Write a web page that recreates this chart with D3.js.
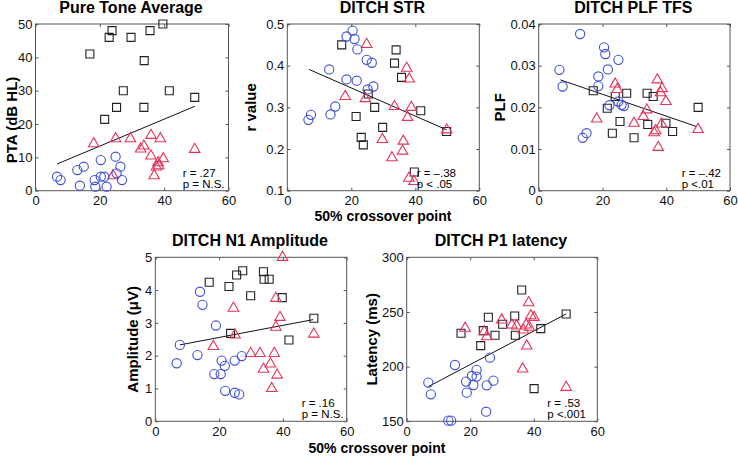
<!DOCTYPE html>
<html>
<head>
<meta charset="utf-8">
<script src="https://cdn.jsdelivr.net/npm/d3@7"></script>
<style>
  body { margin: 0; background: #fff; }
  text { font-family: "Liberation Sans", Arial, sans-serif; }
</style>
</head>
<body>
<svg id="chart" width="738" height="461"></svg>
<script>
// x = 50% crossover point, y = measure
const xTicks = [0, 20, 40, 60];

// Pure Tone Average
const ptaCircles = [[6.7,4.2],[7.8,3.2],[13,6.2],[15,7.2],[13.8,1.5],[20.3,9.2],[24.9,10.2],[18.4,3.2],[18.6,1.2],[20.3,4.2],[21.4,4.2],[22.1,1.2],[25.2,5.2],[26.4,7.2],[26.9,3.2]];
const ptaSquares = [[16.9,41],[23.8,48],[22.9,46],[29.7,46],[35.6,48],[39.6,50],[33.8,39],[27.3,30],[41.6,30],[49.5,28],[25.2,25],[33.7,25],[21.5,21.4]];
const ptaTriangles = [[18.1,14.1],[24.9,15.6],[29.5,15.6],[35.9,16.6],[38.8,15.6],[32.7,12.5],[33.7,13.4],[49.5,12.4],[35.9,10.4],[39.7,9.6],[38.1,8.4],[38.3,7.5],[37.6,7.1],[36.9,4.5],[24.1,4.5]];
const ptaFit = [[6.7,8.0],[49.5,25.3]];
const ptaTicks = [0, 10, 20, 30, 40, 50];

// DITCH STR
const strCircles = [[20.4,0.484],[18.5,0.470],[21,0.464],[21.9,0.439],[24.8,0.414],[26.4,0.407],[13.1,0.391],[18.5,0.367],[21.7,0.364],[26.9,0.350],[25.1,0.343],[15,0.302],[13.5,0.283],[7.4,0.282],[6.6,0.270]];
const strSquares = [[17,0.450],[34,0.438],[33.5,0.406],[35.7,0.372],[25.3,0.332],[27.3,0.300],[41.7,0.292],[21.5,0.278],[29.8,0.252],[49.8,0.242],[23.1,0.228],[23.75,0.210],[39.7,0.145]];
const strTriangles = [[24.8,0.451],[37.3,0.394],[38.1,0.368],[18.1,0.326],[24.4,0.321],[33.5,0.302],[38.75,0.300],[37.6,0.276],[49.8,0.246],[29.7,0.223],[36.25,0.219],[36,0.195],[32.7,0.179],[38,0.130],[39.6,0.122]];
const strFit = [[6.8,0.391],[49.8,0.246]];
const strTicks = [0.1, 0.2, 0.3, 0.4, 0.5];

// DITCH PLF TFS
const plfCircles = [[13,0.0376],[20.5,0.0344],[20.9,0.0328],[25,0.0314],[6.5,0.0290],[21.7,0.0291],[18.7,0.0274],[7.5,0.0250],[18.7,0.0251],[22.2,0.0205],[25,0.0214],[26,0.0206],[26.7,0.0203],[15,0.0138],[13.8,0.0127]];
const plfSquares = [[17.1,0.0240],[24,0.0226],[27.6,0.0234],[34,0.0234],[35.9,0.0226],[21.5,0.0198],[50,0.0200],[25.5,0.0166],[34.2,0.0159],[39.9,0.0162],[42,0.0142],[23.1,0.0138],[29.9,0.0127]];
const plfTriangles = [[37.2,0.0266],[24,0.0256],[24.6,0.0243],[38.7,0.0245],[38.2,0.0235],[39.9,0.0214],[33.9,0.0194],[32.8,0.0178],[18.2,0.0172],[29.9,0.0162],[38.5,0.0160],[36.2,0.0139],[36.7,0.0144],[50,0.0147],[37.5,0.0104]];
const plfFit = [[6.8,0.0266],[49.5,0.0154]];
const plfTicks = [0, 0.01, 0.02, 0.03, 0.04];

// DITCH N1 Amplitude
const n1Circles = [[14,3.95],[14.8,3.55],[19,2.92],[7.7,2.33],[13.2,2.02],[6.7,1.77],[27.1,1.99],[20.8,1.85],[21.8,1.69],[24.9,1.85],[18.5,1.44],[20.5,1.44],[21.9,0.93],[24.9,0.87],[26.3,0.82]];
const n1Squares = [[16.9,4.24],[23.1,4.11],[25.5,4.46],[27.4,4.59],[33.9,4.56],[34.1,4.33],[35.7,4.33],[29.9,3.83],[39.8,3.77],[23.6,2.68],[49.7,3.14],[41.9,2.48]];
const n1Triangles = [[39.9,5.0],[37.8,3.75],[24.5,3.45],[39.1,3.17],[37.8,2.87],[25,2.63],[49.7,2.66],[18.2,2.28],[29.9,2.07],[32.8,2.07],[37.3,2.07],[36.1,1.75],[33.9,1.59],[38.2,1.41],[36.5,1.0]];
const n1Fit = [[7.7,2.33],[49.5,3.1]];
const n1Ticks = [0, 1, 2, 3, 4, 5];

// DITCH P1 latency
const p1Circles = [[26.2,208.2],[15.2,201.5],[22,197],[20.5,191.5],[18.7,186.3],[22,190.9],[21,183.2],[27.3,187.2],[25.2,182.9],[6.8,185.4],[7.6,174.7],[18.9,176.2],[25,158.8],[13.1,150.6],[14,150.6]];
const p1Squares = [[36.2,270.1],[50.2,248.2],[34,246.3],[25.7,245.1],[30.2,238.7],[24.1,232.9],[42.2,234.8],[17.1,230.5],[27.8,228.7],[34.2,228.7],[23.3,219.2],[40.1,179.9]];
const p1Triangles = [[38.4,258.5],[39.1,246.6],[40.1,245.1],[29.9,242.7],[18.4,235.1],[33.1,238.1],[34.6,237.2],[37.6,238.1],[38.6,236],[36.7,233.5],[24.4,232],[25.2,227.4],[37.8,218.9],[36.5,197.9],[50.2,181.1]];
const p1Fit = [[6.8,181.7],[50.2,248.2]];
const p1Ticks = [150, 200, 250, 300];

const panels = [
  { title: "Pure Tone Average", ylab: "PTA (dB HL)", ylabY: 120, ticks: ptaTicks,
    circles: ptaCircles, squares: ptaSquares, triangles: ptaTriangles, fit: ptaFit,
    r: "r = .27", p: "p = N.S.", left: 35.5, top: 24, w: 193, h: 166.7, ylabX: 12, statX: 182.7 },
  { title: "DITCH STR", ylab: "r value", ticks: strTicks,
    circles: strCircles, squares: strSquares, triangles: strTriangles, fit: strFit,
    r: "r = \u2013.38", p: "p < .05", left: 287.3, top: 24, w: 192, h: 166.7, ylabX: 251, statX: 416.7 },
  { title: "DITCH PLF TFS", ylab: "PLF", ticks: plfTicks,
    circles: plfCircles, squares: plfSquares, triangles: plfTriangles, fit: plfFit,
    r: "r = \u2013.42", p: "p <.01", left: 538.7, top: 24, w: 191.3, h: 166.7, ylabX: 500, statX: 681.7 },
  { title: "DITCH N1 Amplitude", ylab: "Amplitude (\u03BCV)", ticks: n1Ticks,
    circles: n1Circles, squares: n1Squares, triangles: n1Triangles, fit: n1Fit,
    r: "r = .16", p: "p = N.S.", left: 155.3, top: 257.3, w: 191.4, h: 164, ylabX: 133, statX: 301.7 },
  { title: "DITCH P1 latency", ylab: "Latency (ms)", ticks: p1Ticks,
    circles: p1Circles, squares: p1Squares, triangles: p1Triangles, fit: p1Fit,
    r: "r = .53", p: "p <.001", left: 406.7, top: 257.3, w: 190.6, h: 164, ylabX: 372, statX: 547.3 }
];

const svg = d3.select("#chart");
const blue = "#3d4fd6", red = "#e5345a", black = "#222";

panels.forEach(pn => {
  const x = d3.scaleLinear().domain([0, 60]).range([0, pn.w]);
  const yDom = d3.extent(pn.ticks);
  const y = d3.scaleLinear().domain(yDom).range([pn.h, 0]);

  const g = svg.append("g").attr("transform", `translate(${pn.left},${pn.top})`);

  // frame
  g.append("rect")
    .attr("width", pn.w).attr("height", pn.h)
    .attr("fill", "none").attr("stroke", "#555").attr("stroke-width", 1);

  // axes, ticks inward like matlab
  const styleAxis = a => {
    a.select(".domain").remove();
    a.selectAll("line").attr("stroke", "#555");
    a.selectAll("text").attr("font-size", 13).attr("fill", "#111")
      .attr("font-family", "Liberation Sans, Arial, sans-serif");
  };
  g.append("g").attr("transform", `translate(0,${pn.h})`)
    .call(d3.axisBottom(x).tickValues(xTicks).tickSize(-3).tickPadding(5))
    .call(styleAxis);
  g.append("g")
    .call(d3.axisTop(x).tickValues(xTicks).tickSize(-3).tickFormat(""))
    .call(styleAxis);
  g.append("g")
    .call(d3.axisLeft(y).tickValues(pn.ticks).tickSize(-3).tickPadding(3).tickFormat(d => String(d)))
    .call(styleAxis);
  g.append("g").attr("transform", `translate(${pn.w},0)`)
    .call(d3.axisRight(y).tickValues(pn.ticks).tickSize(-3).tickFormat(""))
    .call(styleAxis);

  // fit line
  g.append("path")
    .datum(pn.fit)
    .attr("fill", "none").attr("stroke", "#111").attr("stroke-width", 1)
    .attr("d", d3.line().x(d => x(d[0])).y(d => y(d[1])));

  // squares
  g.selectAll(".sq").data(pn.squares).enter().append("path")
    .attr("transform", d => `translate(${x(d[0])},${y(d[1])})`)
    .attr("d", d3.symbol(d3.symbolSquare, 64))
    .attr("fill", "none").attr("stroke", black).attr("stroke-width", 1.1);

  // triangles
  g.selectAll(".tri").data(pn.triangles).enter().append("path")
    .attr("transform", d => `translate(${x(d[0])},${y(d[1])})`)
    .attr("d", d3.symbol(d3.symbolTriangle, 48))
    .attr("fill", "none").attr("stroke", red).attr("stroke-width", 1.1);

  // circles
  g.selectAll("circle").data(pn.circles).enter().append("circle")
    .attr("cx", d => x(d[0])).attr("cy", d => y(d[1])).attr("r", 4.6)
    .attr("fill", "none").attr("stroke", blue).attr("stroke-width", 1.1);

  // stats
  svg.append("text").attr("x", pn.statX).attr("y", pn.top + pn.h - 14)
    .attr("font-size", 11.5).text(pn.r);
  svg.append("text").attr("x", pn.statX).attr("y", pn.top + pn.h - 3)
    .attr("font-size", 11.5).text(pn.p);

  // title
  svg.append("text")
    .attr("x", pn.left + pn.w / 2 - 1).attr("y", pn.top - 11)
    .attr("text-anchor", "middle").attr("font-weight", "bold").attr("font-size", 16)
    .text(pn.title);

  // y label
  const cy = pn.ylabY || (pn.top + pn.h / 2);
  svg.append("text")
    .attr("transform", `translate(${pn.ylabX + 5},${cy}) rotate(-90)`)
    .attr("text-anchor", "middle").attr("font-weight", "bold").attr("font-size", 15)
    .text(pn.ylab);
});

// x labels
svg.append("text")
  .attr("x", 383).attr("y", 220.5)
  .attr("text-anchor", "middle").attr("font-weight", "bold").attr("font-size", 14)
  .text("50% crossover point");

svg.append("text")
  .attr("x", 377).attr("y", 452.5)
  .attr("text-anchor", "middle").attr("font-weight", "bold").attr("font-size", 14)
  .text("50% crossover point");
</script>
</body>
</html>
